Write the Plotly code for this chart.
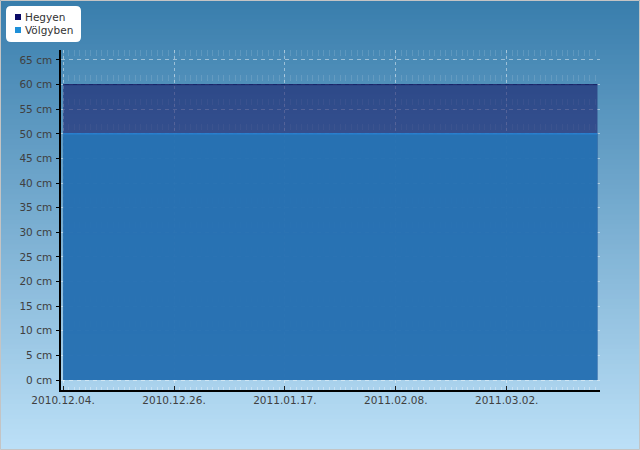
import plotly.graph_objects as go

# ---- data ----
dates = ["2010-12-04", "2010-12-26", "2011-01-17", "2011-02-08", "2011-03-02", "2011-03-20"]
hegyen = [60, 60, 60, 60, 60, 60]
volgyben = [50, 50, 50, 50, 50, 50]
series_names = ["Hegyen", "Völgyben"]
series_colors = ["#0b0b66", "#1e90d8"]
x_ticks = ["2010-12-04", "2010-12-26", "2011-01-17", "2011-02-08", "2011-03-02"]
y_ticks = [0, 5, 10, 15, 20, 25, 30, 35, 40, 45, 50, 55, 60, 65]

L, R, T, B = 61, 600, 50, 390
PW, PH = R - L, B - T


def px(x):
    return (x - L) / PW


def py(y):
    return (B - y) / PH


fig = go.Figure()

fig.add_trace(go.Scatter(
    x=dates, y=hegyen, mode="lines", fill="tozeroy", name=series_names[0],
    line=dict(color="rgba(14,20,90,0.9)", width=1),
    fillcolor="rgba(16,16,96,0.55)", showlegend=False, hoverinfo="skip"))
fig.add_trace(go.Scatter(
    x=dates, y=volgyben, mode="lines", fill="tozeroy", name=series_names[1],
    line=dict(color="rgba(40,130,210,0.9)", width=1.5),
    fillcolor="rgba(38,116,182,0.9)", showlegend=False, hoverinfo="skip"))

# background gradient
shapes = []
n = 90
top = (56, 125, 172)
bot = (188, 224, 247)
y_top, y_bot = py(0), py(450)
for i in range(n):
    t = (i + 0.5) / n
    c = tuple(int(round(top[k] + (bot[k] - top[k]) * t)) for k in range(3))
    y0 = y_top + (y_bot - y_top) * i / n
    y1 = y_top + (y_bot - y_top) * (i + 1) / n
    shapes.append(dict(type="rect", xref="paper", yref="paper", x0=-0.2, x1=1.2,
                       y0=y1, y1=y0 + 0.002, fillcolor="rgb(%d,%d,%d)" % c,
                       line=dict(width=0), layer="below"))
# outer border
shapes.append(dict(type="rect", xref="paper", yref="paper",
                   x0=px(0.5), x1=px(639.5), y0=py(449.5), y1=py(0.5),
                   fillcolor="rgba(0,0,0,0)", line=dict(color="#c4c4c4", width=1), layer="above"))

# legend box (rounded)
lx0, lx1, ly0, ly1, r = 6, 81, 6, 42, 5
path = ("M {a},{b} L {c},{b} Q {d},{b} {d},{e} L {d},{f} Q {d},{g} {c},{g} "
        "L {a},{g} Q {h},{g} {h},{f} L {h},{e} Q {h},{b} {a},{b} Z").format(
    a=px(lx0 + r), b=py(ly0), c=px(lx1 - r), d=px(lx1), e=py(ly0 + r),
    f=py(ly1 - r), g=py(ly1), h=px(lx0))
shapes.append(dict(type="path", xref="paper", yref="paper", path=path,
                   fillcolor="white", line=dict(width=0), layer="above"))
annotations = []
for i, (nm, col) in enumerate(zip(series_names, series_colors)):
    cy = 17 + 13 * i
    shapes.append(dict(type="rect", xref="paper", yref="paper",
                       x0=px(15), x1=px(21), y0=py(cy + 3), y1=py(cy - 3),
                       fillcolor=col, line=dict(width=0), layer="above"))
    annotations.append(dict(xref="paper", yref="paper", x=px(23), y=py(cy),
                            xanchor="left", yanchor="middle", text=nm, showarrow=False,
                            font=dict(size=10.5, color="#333", family="DejaVu Sans")))

fig.update_layout(
    width=640, height=450,
    margin=dict(l=L, r=640 - R, t=T, b=450 - B, autoexpand=False),
    paper_bgcolor="rgba(0,0,0,0)", plot_bgcolor="rgba(0,0,0,0)",
    shapes=shapes, annotations=annotations,
    font=dict(family="DejaVu Sans", size=10.5, color="#404040"),
    showlegend=False,
    xaxis=dict(
        type="date", range=["2010-12-03 14:00", "2011-03-20 12:00"],
        tickvals=x_ticks, tickformat="%Y.%m.%d.", automargin=False,
        ticks="inside", ticklen=4, tickcolor="#222", tickwidth=1,
        showline=True, linecolor="black", linewidth=1.5,
        showgrid=True, gridcolor="rgba(255,255,255,0.45)", griddash="3px,3px", gridwidth=1,
        zeroline=False,
        minor=dict(tick0="2010-12-04", dtick=95040000, ticks="inside", ticklen=3,
                   tickcolor="rgba(255,255,255,0.35)", showgrid=True,
                   gridcolor="rgba(255,255,255,0.12)", griddash="6px,18.6px", gridwidth=1.2),
    ),
    yaxis=dict(
        range=[-2.03, 67.03], tickvals=y_ticks,
        ticktext=["%d cm" % v for v in y_ticks], automargin=False,
        ticks="outside", ticklen=3, tickcolor="black", ticklabelstandoff=2,
        showline=True, linecolor="black", linewidth=1.5,
        showgrid=True, gridcolor="rgba(255,255,255,0.45)", griddash="4px,4px", gridwidth=1,
        zeroline=False,
    ),
)

fig.write_html("out.html")
